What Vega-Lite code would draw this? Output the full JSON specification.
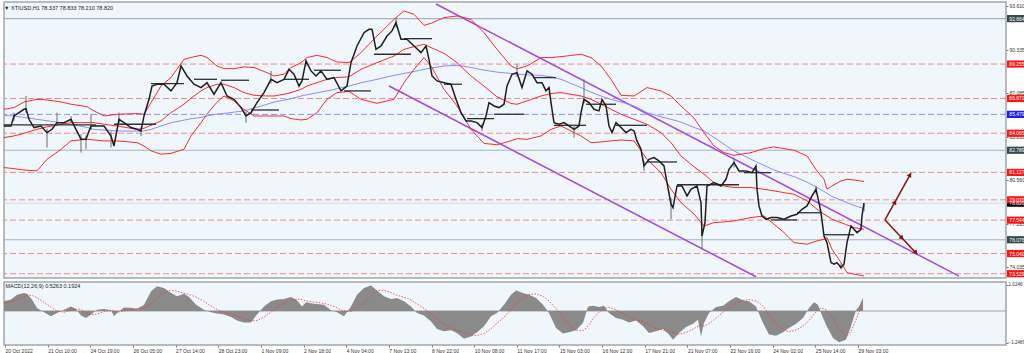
{
"$schema":"https://vega.github.io/schema/vega-lite/v6.json",
"padding":{"left":0,"top":1,"right":0,"bottom":0},
"background":"#ffffff",
"spacing":2,
"config":{"view":{"stroke":"#a0a6ac","strokeWidth":1.5,"fill":"#eff7fd"},"font":"Liberation Sans","title":{"fontSize":5.5,"fontWeight":"normal","color":"#222222","anchor":"start","font":"Liberation Sans"},"axis":{"labelFont":"Liberation Sans","labelFontSize":5,"labelColor":"#333333","tickColor":"#777777","tickSize":2,"domain":false,"grid":false,"title":null,"zindex":0}},
"datasets":{
"levels":[
{"p":78.82,"lbl":"78.820","k":"bid"},
{"p":92.664,"lbl":"92.664","k":"gray"},{"p":82.789,"lbl":"82.789","k":"gray"},{"p":76.076,"lbl":"76.076","k":"gray"},
{"p":89.255,"lbl":"89.255","k":"red"},{"p":86.671,"lbl":"86.671","k":"red"},{"p":84.065,"lbl":"84.065","k":"red"},{"p":81.127,"lbl":"81.127","k":"red"},{"p":79.07,"lbl":"79.070","k":"red"},{"p":77.544,"lbl":"77.544","k":"red"},{"p":75.04,"lbl":"75.040","k":"red"},{"p":73.529,"lbl":"73.529","k":"red"},
{"p":85.479,"lbl":"85.479","k":"blue"}],
"chan":[{"t":432,"p":93.76,"g":"a"},{"t":955,"p":73.35,"g":"a"},{"t":385,"p":87.61,"g":"b"},{"t":752,"p":73.3,"g":"b"}],
"arr":[{"t":881,"p":77.56,"g":"up"},{"t":907,"p":81.08,"g":"up"},{"t":881,"p":77.56,"g":"dn"},{"t":913,"p":75.01,"g":"dn"}],
"heads":[{"t":906,"p":80.95,"g":"up"},{"t":891,"p":78.91,"g":"up"},{"t":912,"p":75.1,"g":"dn"},{"t":898,"p":76.2,"g":"dn"}],
"segs":[{"t1":0,"t2":92,"p":84.69},{"t1":110,"t2":152,"p":84.74},{"t1":147,"t2":180,"p":87.79},{"t1":190,"t2":213,"p":88.11},{"t1":217,"t2":245,"p":88.04},{"t1":247,"t2":275,"p":85.81},{"t1":280,"t2":305,"p":88.11},{"t1":310,"t2":337,"p":88.79},{"t1":340,"t2":367,"p":87.24},{"t1":370,"t2":407,"p":89.99},{"t1":400,"t2":428,"p":91.16},{"t1":440,"t2":458,"p":87.74},{"t1":463,"t2":490,"p":85.16},{"t1":490,"t2":520,"p":85.49},{"t1":530,"t2":552,"p":88.24},{"t1":550,"t2":582,"p":84.66},{"t1":582,"t2":612,"p":86.24},{"t1":612,"t2":643,"p":84.66},{"t1":643,"t2":673,"p":81.91},{"t1":673,"t2":735,"p":80.2},{"t1":740,"t2":767,"p":81.11},{"t1":767,"t2":793,"p":77.56},{"t1":793,"t2":817,"p":78.1},{"t1":820,"t2":850,"p":76.45}],
"bands":[
{"t":0,"u":85.86,"m":83.74,"lo":81.49,"ma":85.41},{"t":10,"u":85.99,"m":83.86,"lo":81.41,"ma":85.35},{"t":20,"u":86.41,"m":84.06,"lo":81.31,"ma":85.25},{"t":33,"u":86.61,"m":84.36,"lo":81.24,"ma":85.11},{"t":43,"u":86.56,"m":84.54,"lo":82.11,"ma":85.0},{"t":57,"u":86.41,"m":84.74,"lo":82.86,"ma":84.85},{"t":67,"u":86.24,"m":84.86,"lo":83.49,"ma":84.74},{"t":83,"u":86.06,"m":84.86,"lo":83.61,"ma":84.5},{"t":90,"u":85.74,"m":84.86,"lo":83.56,"ma":84.36},{"t":100,"u":85.36,"m":84.74,"lo":83.49,"ma":84.3},{"t":113,"u":85.49,"m":84.61,"lo":83.49,"ma":84.24},{"t":133,"u":85.54,"m":84.36,"lo":83.36,"ma":84.22},{"t":140,"u":85.49,"m":84.44,"lo":83.11,"ma":84.24},{"t":147,"u":86.36,"m":84.66,"lo":82.74,"ma":84.35},{"t":157,"u":87.61,"m":84.99,"lo":82.49,"ma":84.61},{"t":167,"u":88.24,"m":85.61,"lo":82.56,"ma":84.85},{"t":180,"u":89.61,"m":86.24,"lo":82.86,"ma":85.05},{"t":187,"u":89.75,"m":86.7,"lo":83.86,"ma":85.15},{"t":197,"u":89.91,"m":87.24,"lo":84.86,"ma":85.25},{"t":203,"u":89.74,"m":87.49,"lo":85.5,"ma":85.36},{"t":213,"u":89.11,"m":87.74,"lo":86.4,"ma":85.5},{"t":220,"u":88.91,"m":87.74,"lo":86.86,"ma":85.55},{"t":230,"u":88.91,"m":87.49,"lo":86.49,"ma":85.65},{"t":240,"u":89.04,"m":87.11,"lo":85.86,"ma":85.74},{"t":250,"u":88.99,"m":86.91,"lo":85.36,"ma":85.95},{"t":263,"u":88.61,"m":86.86,"lo":85.36,"ma":86.24},{"t":270,"u":88.36,"m":86.86,"lo":85.36,"ma":86.4},{"t":280,"u":88.49,"m":86.99,"lo":85.36,"ma":86.55},{"t":287,"u":88.99,"m":87.11,"lo":85.16,"ma":86.65},{"t":297,"u":89.36,"m":87.36,"lo":85.06,"ma":86.86},{"t":303,"u":89.74,"m":87.61,"lo":85.11,"ma":86.95},{"t":313,"u":89.91,"m":87.86,"lo":85.61,"ma":87.1},{"t":323,"u":89.74,"m":88.11,"lo":86.61,"ma":87.24},{"t":333,"u":89.41,"m":88.24,"lo":87.11,"ma":87.4},{"t":345,"u":89.36,"m":88.3,"lo":87.2,"ma":87.6},{"t":357,"u":90.11,"m":88.86,"lo":86.61,"ma":87.85},{"t":373,"u":91.36,"m":89.36,"lo":86.31,"ma":88.11},{"t":390,"u":92.61,"m":89.86,"lo":86.61,"ma":88.4},{"t":400,"u":93.24,"m":90.36,"lo":87.86,"ma":88.55},{"t":410,"u":92.99,"m":90.56,"lo":88.86,"ma":88.7},{"t":420,"u":92.16,"m":90.74,"lo":89.74,"ma":88.86},{"t":427,"u":92.31,"m":90.49,"lo":89.11,"ma":88.95},{"t":440,"u":92.74,"m":90.06,"lo":87.36,"ma":89.11},{"t":453,"u":92.86,"m":89.36,"lo":86.11,"ma":89.16},{"t":467,"u":92.61,"m":88.36,"lo":84.36,"ma":89.0},{"t":480,"u":91.61,"m":87.6,"lo":83.3,"ma":88.8},{"t":493,"u":90.36,"m":86.8,"lo":83.2,"ma":88.65},{"t":507,"u":89.11,"m":86.3,"lo":83.5,"ma":88.55},{"t":513,"u":88.9,"m":86.24,"lo":83.66,"ma":88.5},{"t":523,"u":89.11,"m":86.49,"lo":83.61,"ma":88.45},{"t":537,"u":89.74,"m":86.86,"lo":83.86,"ma":88.41},{"t":547,"u":89.74,"m":87.04,"lo":84.36,"ma":88.3},{"t":557,"u":89.81,"m":87.11,"lo":84.61,"ma":88.11},{"t":577,"u":89.99,"m":86.86,"lo":83.86,"ma":87.49},{"t":587,"u":89.74,"m":86.61,"lo":83.36,"ma":87.15},{"t":597,"u":89.11,"m":86.24,"lo":83.41,"ma":86.86},{"t":607,"u":88.11,"m":85.86,"lo":83.49,"ma":86.6},{"t":617,"u":86.91,"m":85.49,"lo":83.56,"ma":86.41},{"t":630,"u":86.86,"m":85.11,"lo":83.49,"ma":86.11},{"t":643,"u":87.49,"m":84.74,"lo":82.11,"ma":85.61},{"t":657,"u":87.24,"m":84.11,"lo":81.11,"ma":85.3},{"t":667,"u":86.86,"m":83.36,"lo":79.86,"ma":85.11},{"t":677,"u":86.11,"m":82.36,"lo":78.86,"ma":84.9},{"t":690,"u":85.2,"m":81.55,"lo":78.0,"ma":84.5},{"t":700,"u":84.11,"m":80.99,"lo":77.11,"ma":84.24},{"t":710,"u":83.11,"m":80.36,"lo":77.36,"ma":83.75},{"t":720,"u":82.61,"m":80.11,"lo":77.41,"ma":83.24},{"t":730,"u":82.41,"m":79.99,"lo":77.49,"ma":82.74},{"t":747,"u":82.61,"m":79.99,"lo":77.74,"ma":82.11},{"t":760,"u":82.91,"m":79.86,"lo":77.86,"ma":81.65},{"t":770,"u":83.04,"m":79.74,"lo":77.24,"ma":81.31},{"t":780,"u":82.91,"m":79.61,"lo":76.61,"ma":81.05},{"t":790,"u":82.79,"m":79.49,"lo":75.86,"ma":80.81},{"t":803,"u":82.36,"m":78.99,"lo":75.74,"ma":80.4},{"t":813,"u":81.24,"m":78.36,"lo":75.99,"ma":79.99},{"t":820,"u":80.61,"m":77.99,"lo":76.11,"ma":79.7},{"t":823,"u":79.86,"m":77.86,"lo":76.24,"ma":79.55},{"t":828,"u":80.11,"m":77.61,"lo":75.36,"ma":79.31},{"t":837,"u":80.49,"m":77.36,"lo":74.36,"ma":79.05},{"t":843,"u":80.61,"m":77.19,"lo":73.61,"ma":78.86},{"t":850,"u":80.56,"m":76.99,"lo":73.49,"ma":78.65},{"t":860,"u":80.44,"m":76.86,"lo":73.36,"ma":78.41}],
"price":[
{"t":0,"c":84.61},{"t":7,"c":84.61},{"t":10,"c":85.36,"h":85.61,"l":85.0},{"t":20,"c":85.86},{"t":22,"c":85.9,"h":86.86,"l":85.6},{"t":25,"c":85.11},{"t":30,"c":84.49},{"t":37,"c":84.61},{"t":43,"c":84.11,"h":84.4,"l":82.99},{"t":48,"c":84.36},{"t":53,"c":84.86,"h":85.61,"l":84.6},{"t":60,"c":84.86},{"t":67,"c":85.11,"h":85.36,"l":84.9},{"t":72,"c":84.36},{"t":77,"c":83.61,"h":84.0,"l":82.61},{"t":82,"c":83.61,"h":83.9,"l":82.86},{"t":87,"c":84.61,"h":85.49,"l":84.3},{"t":93,"c":84.61},{"t":100,"c":84.61},{"t":107,"c":83.86,"h":84.2,"l":82.99},{"t":110,"c":83.11},{"t":115,"c":85.11,"h":85.61,"l":84.7},{"t":120,"c":84.86},{"t":127,"c":84.49},{"t":133,"c":84.36},{"t":137,"c":84.24,"h":84.5,"l":83.86},{"t":140,"c":85.36},{"t":145,"c":86.61},{"t":148,"c":87.61},{"t":153,"c":87.74},{"t":160,"c":87.74},{"t":167,"c":87.24},{"t":173,"c":87.86},{"t":177,"c":89.11},{"t":183,"c":88.36},{"t":190,"c":87.74},{"t":197,"c":87.49},{"t":203,"c":87.86},{"t":210,"c":86.99},{"t":217,"c":87.86},{"t":223,"c":86.86},{"t":230,"c":86.61},{"t":237,"c":85.99},{"t":242,"c":85.36,"h":85.7,"l":84.86},{"t":247,"c":85.61},{"t":253,"c":86.36},{"t":260,"c":87.11},{"t":267,"c":88.11,"h":88.74,"l":87.8},{"t":273,"c":87.86},{"t":280,"c":88.11},{"t":285,"c":88.86},{"t":290,"c":88.49},{"t":295,"c":87.61},{"t":298,"c":87.99},{"t":302,"c":89.49,"h":89.61,"l":89.1},{"t":307,"c":88.74},{"t":312,"c":88.36},{"t":317,"c":88.74},{"t":323,"c":88.11},{"t":330,"c":88.24},{"t":337,"c":87.24},{"t":343,"c":87.61},{"t":347,"c":89.36},{"t":353,"c":90.61},{"t":360,"c":91.61},{"t":365,"c":91.86},{"t":368,"c":91.86},{"t":372,"c":90.36},{"t":377,"c":90.61},{"t":383,"c":91.36},{"t":388,"c":91.74},{"t":392,"c":92.36,"h":92.74,"l":92.0},{"t":397,"c":91.11},{"t":403,"c":91.11},{"t":410,"c":90.61},{"t":417,"c":90.11},{"t":422,"c":90.61},{"t":425,"c":89.61},{"t":428,"c":88.36},{"t":433,"c":87.99},{"t":440,"c":87.86},{"t":447,"c":87.74},{"t":452,"c":86.61},{"t":457,"c":85.61},{"t":462,"c":84.99},{"t":467,"c":84.99},{"t":473,"c":84.86},{"t":478,"c":84.49,"h":84.8,"l":84.24},{"t":482,"c":85.36},{"t":485,"c":86.36},{"t":490,"c":86.11},{"t":495,"c":85.99},{"t":500,"c":86.24},{"t":503,"c":87.61},{"t":508,"c":88.49},{"t":513,"c":88.61,"h":89.24,"l":88.3},{"t":518,"c":87.49},{"t":523,"c":88.74},{"t":528,"c":88.49},{"t":533,"c":87.86},{"t":538,"c":87.86},{"t":542,"c":87.24},{"t":545,"c":87.49},{"t":547,"c":86.36},{"t":550,"c":84.86},{"t":555,"c":84.74},{"t":560,"c":84.86},{"t":565,"c":84.61},{"t":570,"c":84.36,"h":84.7,"l":83.74},{"t":575,"c":84.61},{"t":577,"c":85.61},{"t":580,"c":86.61,"h":88.11,"l":86.3},{"t":585,"c":86.36},{"t":590,"c":85.86},{"t":595,"c":85.74},{"t":598,"c":86.61},{"t":602,"c":86.11},{"t":605,"c":84.61},{"t":608,"c":84.11},{"t":612,"c":84.86},{"t":617,"c":84.49},{"t":622,"c":84.11},{"t":627,"c":84.36},{"t":630,"c":84.24},{"t":633,"c":83.49},{"t":637,"c":82.86},{"t":640,"c":81.61,"h":82.0,"l":81.24},{"t":645,"c":82.11},{"t":650,"c":82.24},{"t":655,"c":81.99},{"t":660,"c":81.61},{"t":663,"c":80.36},{"t":667,"c":78.74,"h":79.2,"l":77.61},{"t":669,"c":78.49},{"t":673,"c":80.11},{"t":678,"c":80.11},{"t":683,"c":79.36},{"t":687,"c":79.86},{"t":693,"c":80.11},{"t":697,"c":78.86},{"t":698,"c":76.36,"h":76.8,"l":75.36},{"t":701,"c":77.36},{"t":703,"c":80.11},{"t":710,"c":80.36},{"t":717,"c":80.11},{"t":722,"c":80.61},{"t":725,"c":81.36},{"t":730,"c":81.86,"h":82.24,"l":81.5},{"t":735,"c":81.24},{"t":742,"c":81.24},{"t":748,"c":81.11},{"t":752,"c":81.61},{"t":753,"c":79.86},{"t":755,"c":78.61},{"t":758,"c":77.86},{"t":762,"c":77.61},{"t":767,"c":77.74},{"t":773,"c":77.74},{"t":780,"c":77.61},{"t":787,"c":77.86},{"t":793,"c":77.99},{"t":798,"c":78.36},{"t":803,"c":78.61},{"t":808,"c":79.36},{"t":812,"c":79.86,"h":80.11,"l":79.5},{"t":815,"c":78.86},{"t":817,"c":78.11},{"t":820,"c":76.36},{"t":823,"c":75.86},{"t":827,"c":74.36},{"t":830,"c":74.24},{"t":833,"c":74.36},{"t":837,"c":73.99,"h":74.3,"l":73.86},{"t":840,"c":74.24},{"t":843,"c":75.86},{"t":847,"c":77.11},{"t":850,"c":76.86},{"t":853,"c":76.61},{"t":857,"c":76.86},{"t":858,"c":77.86},{"t":860,"c":78.82,"h":78.833,"l":78.21}],
"macd":[
{"t":0,"h":0.38,"s":0.3},{"t":7,"h":0.45,"s":0.36},{"t":13,"h":0.64,"s":0.45},{"t":20,"h":0.71,"s":0.57},{"t":23,"h":0.68,"s":0.62},{"t":28,"h":0.45,"s":0.62},{"t":33,"h":0.12,"s":0.52},{"t":40,"h":-0.05,"s":0.35},{"t":47,"h":-0.21,"s":0.15},{"t":53,"h":-0.08,"s":0.0},{"t":60,"h":0.05,"s":-0.05},{"t":67,"h":0.18,"s":0.02},{"t":72,"h":0.08,"s":0.08},{"t":77,"h":-0.18,"s":0.06},{"t":82,"h":-0.28,"s":-0.06},{"t":87,"h":-0.14,"s":-0.15},{"t":93,"h":0.05,"s":-0.12},{"t":100,"h":0.08,"s":-0.03},{"t":107,"h":0.03,"s":0.03},{"t":110,"h":-0.21,"s":0.0},{"t":115,"h":-0.01,"s":-0.04},{"t":120,"h":0.14,"s":0.0},{"t":127,"h":0.13,"s":0.06},{"t":133,"h":0.08,"s":0.1},{"t":140,"h":0.25,"s":0.12},{"t":147,"h":0.77,"s":0.28},{"t":153,"h":0.97,"s":0.5},{"t":160,"h":0.91,"s":0.72},{"t":167,"h":0.71,"s":0.82},{"t":173,"h":0.58,"s":0.78},{"t":180,"h":0.68,"s":0.7},{"t":185,"h":0.55,"s":0.65},{"t":192,"h":0.25,"s":0.55},{"t":200,"h":0.05,"s":0.38},{"t":207,"h":-0.05,"s":0.2},{"t":213,"h":-0.1,"s":0.06},{"t":220,"h":-0.14,"s":-0.04},{"t":227,"h":-0.24,"s":-0.12},{"t":233,"h":-0.37,"s":-0.2},{"t":240,"h":-0.45,"s":-0.3},{"t":247,"h":-0.45,"s":-0.38},{"t":253,"h":-0.14,"s":-0.38},{"t":260,"h":0.18,"s":-0.25},{"t":267,"h":0.38,"s":-0.05},{"t":273,"h":0.45,"s":0.15},{"t":280,"h":0.47,"s":0.3},{"t":287,"h":0.55,"s":0.42},{"t":293,"h":0.42,"s":0.47},{"t":298,"h":0.18,"s":0.44},{"t":302,"h":0.34,"s":0.4},{"t":310,"h":0.29,"s":0.35},{"t":320,"h":0.25,"s":0.3},{"t":327,"h":0.03,"s":0.22},{"t":333,"h":-0.05,"s":0.12},{"t":340,"h":-0.21,"s":0.0},{"t":347,"h":0.18,"s":-0.02},{"t":353,"h":0.64,"s":0.12},{"t":360,"h":0.91,"s":0.35},{"t":367,"h":1.0,"s":0.6},{"t":373,"h":0.81,"s":0.8},{"t":380,"h":0.58,"s":0.82},{"t":387,"h":0.47,"s":0.72},{"t":393,"h":0.51,"s":0.62},{"t":400,"h":0.38,"s":0.54},{"t":407,"h":0.18,"s":0.44},{"t":413,"h":-0.08,"s":0.28},{"t":420,"h":-0.18,"s":0.1},{"t":427,"h":-0.41,"s":-0.1},{"t":433,"h":-0.71,"s":-0.32},{"t":440,"h":-0.8,"s":-0.52},{"t":447,"h":-0.76,"s":-0.66},{"t":453,"h":-0.87,"s":-0.75},{"t":460,"h":-1.09,"s":-0.85},{"t":467,"h":-1.0,"s":-0.95},{"t":473,"h":-0.84,"s":-0.97},{"t":480,"h":-0.6,"s":-0.88},{"t":487,"h":-0.21,"s":-0.7},{"t":493,"h":-0.08,"s":-0.48},{"t":500,"h":0.25,"s":-0.25},{"t":507,"h":0.64,"s":0.05},{"t":512,"h":0.81,"s":0.3},{"t":519,"h":0.71,"s":0.52},{"t":525,"h":0.64,"s":0.65},{"t":532,"h":0.51,"s":0.67},{"t":539,"h":0.25,"s":0.58},{"t":545,"h":-0.08,"s":0.4},{"t":552,"h":-0.67,"s":0.1},{"t":559,"h":-0.89,"s":-0.25},{"t":565,"h":-0.84,"s":-0.55},{"t":572,"h":-0.76,"s":-0.75},{"t":579,"h":-0.47,"s":-0.78},{"t":584,"h":0.18,"s":-0.6},{"t":589,"h":0.21,"s":-0.3},{"t":595,"h":0.16,"s":-0.05},{"t":600,"h":0.21,"s":0.1},{"t":605,"h":-0.08,"s":0.15},{"t":612,"h":-0.28,"s":0.05},{"t":619,"h":-0.34,"s":-0.12},{"t":625,"h":-0.45,"s":-0.25},{"t":632,"h":-0.37,"s":-0.35},{"t":639,"h":-0.6,"s":-0.42},{"t":645,"h":-0.87,"s":-0.55},{"t":652,"h":-0.8,"s":-0.68},{"t":659,"h":-0.71,"s":-0.75},{"t":665,"h":-0.93,"s":-0.78},{"t":669,"h":-1.13,"s":-0.85},{"t":675,"h":-0.87,"s":-0.92},{"t":682,"h":-0.63,"s":-0.85},{"t":689,"h":-0.5,"s":-0.72},{"t":694,"h":-0.34,"s":-0.6},{"t":697,"h":-1.0,"s":-0.58},{"t":700,"h":-0.47,"s":-0.6},{"t":705,"h":-0.08,"s":-0.5},{"t":712,"h":0.16,"s":-0.28},{"t":719,"h":0.21,"s":-0.05},{"t":725,"h":0.38,"s":0.12},{"t":732,"h":0.55,"s":0.3},{"t":739,"h":0.42,"s":0.42},{"t":745,"h":0.38,"s":0.45},{"t":752,"h":0.18,"s":0.4},{"t":759,"h":-0.47,"s":0.2},{"t":765,"h":-0.93,"s":-0.15},{"t":772,"h":-0.97,"s":-0.5},{"t":779,"h":-0.84,"s":-0.75},{"t":785,"h":-0.67,"s":-0.82},{"t":792,"h":-0.5,"s":-0.75},{"t":799,"h":-0.28,"s":-0.6},{"t":805,"h":0.12,"s":-0.38},{"t":810,"h":0.34,"s":-0.12},{"t":814,"h":0.25,"s":0.05},{"t":817,"h":-0.08,"s":0.12},{"t":822,"h":-0.54,"s":0.05},{"t":829,"h":-1.06,"s":-0.3},{"t":835,"h":-1.23,"s":-0.7},{"t":842,"h":-1.13,"s":-1.0},{"t":847,"h":-0.6,"s":-0.8},{"t":852,"h":0.03,"s":-0.35},{"t":855,"h":0.18,"s":-0.05},{"t":859,"h":0.5263,"s":0.1924}]
},
"vconcat":[
{
"width":1002,"height":276,
"title":{"text":"▼ XTIUSD,H1  78.337 78.833 78.210 78.820","offset":-9,"dx":3},
"layer":[
{"data":{"name":"levels"},"transform":[{"filter":"datum.k=='red'"}],"mark":{"type":"rule","color":"#f28b8b","strokeDash":[6,3],"strokeWidth":1},
 "encoding":{"y":{"field":"p","type":"quantitative","scale":{"domain":[73.205,93.91],"nice":false,"zero":false},
 "axis":{"orient":"right","title":null,"values":[93.61,91.985,90.335,88.71,87.085,85.46,83.81,82.185,80.56,78.935,77.285,75.66,74.035],"labelExpr":"format(datum.value,'.3f')","labelPadding":1}}}},
{"data":{"name":"levels"},"transform":[{"filter":"datum.k=='blue'"}],"mark":{"type":"rule","color":"#8f8fff","strokeDash":[6,3],"strokeWidth":1},
 "encoding":{"y":{"field":"p","type":"quantitative"}}},
{"data":{"name":"levels"},"transform":[{"filter":"datum.k=='gray'"}],"mark":{"type":"rule","color":"#a8b2ba","strokeWidth":1.2},
 "encoding":{"y":{"field":"p","type":"quantitative"}}},
{"data":{"name":"levels"},"transform":[{"filter":"datum.k=='bid'"}],"mark":{"type":"rule","color":"#cfd6dc","strokeWidth":1},
 "encoding":{"y":{"field":"p","type":"quantitative"}}},
{"data":{"name":"chan"},"mark":{"type":"line","color":"#a545e8","strokeWidth":1.5,"clip":true},
 "encoding":{"x":{"field":"t","type":"quantitative","scale":{"domain":[0,1002],"nice":false,"zero":false},"axis":null},
 "y":{"field":"p","type":"quantitative"},"detail":{"field":"g"}}},
{"data":{"name":"bands"},"mark":{"type":"line","color":"#8c8cff","strokeWidth":1,"clip":true},
 "encoding":{"x":{"field":"t","type":"quantitative","axis":null},"y":{"field":"ma","type":"quantitative"}}},
{"data":{"name":"bands"},"mark":{"type":"line","color":"#ff2a2a","strokeWidth":1,"clip":true},
 "encoding":{"x":{"field":"t","type":"quantitative","axis":null},"y":{"field":"u","type":"quantitative"}}},
{"data":{"name":"bands"},"mark":{"type":"line","color":"#ff2a2a","strokeWidth":1,"clip":true},
 "encoding":{"x":{"field":"t","type":"quantitative","axis":null},"y":{"field":"m","type":"quantitative"}}},
{"data":{"name":"bands"},"mark":{"type":"line","color":"#ff2a2a","strokeWidth":1,"clip":true},
 "encoding":{"x":{"field":"t","type":"quantitative","axis":null},"y":{"field":"lo","type":"quantitative"}}},
{"data":{"name":"segs"},"mark":{"type":"rule","color":"#2e2e2e","strokeWidth":1.3},
 "encoding":{"x":{"field":"t1","type":"quantitative","axis":null},"x2":{"field":"t2"},"y":{"field":"p","type":"quantitative"}}},
{"data":{"name":"price"},"mark":{"type":"rule","color":"#6a6a6a","strokeWidth":1},
 "encoding":{"x":{"field":"t","type":"quantitative","axis":null},"y":{"field":"l","type":"quantitative"},"y2":{"field":"h"}}},
{"data":{"name":"price"},"mark":{"type":"line","color":"#1e1e1e","strokeWidth":1.5},
 "encoding":{"x":{"field":"t","type":"quantitative","axis":null},"y":{"field":"c","type":"quantitative"}}},
{"data":{"name":"arr"},"mark":{"type":"line","color":"#8b1212","strokeWidth":1.5},
 "encoding":{"x":{"field":"t","type":"quantitative","axis":null},"y":{"field":"p","type":"quantitative"},"detail":{"field":"g"}}},
{"data":{"name":"heads"},"transform":[{"filter":"datum.g=='up'"}],"mark":{"type":"point","shape":"triangle-up","filled":true,"color":"#8b1212","size":28,"angle":29,"opacity":1},
 "encoding":{"x":{"field":"t","type":"quantitative","axis":null},"y":{"field":"p","type":"quantitative"}}},
{"data":{"name":"heads"},"transform":[{"filter":"datum.g=='dn'"}],"mark":{"type":"point","shape":"triangle-up","filled":true,"color":"#8b1212","size":28,"angle":137,"opacity":1},
 "encoding":{"x":{"field":"t","type":"quantitative","axis":null},"y":{"field":"p","type":"quantitative"}}},
{"data":{"name":"levels"},"mark":{"type":"point","shape":"M-1,-0.36H1V0.36H-1Z","filled":true,"size":400,"opacity":1,"clip":false},
 "encoding":{"x":{"datum":1013,"type":"quantitative","axis":null},"y":{"field":"p","type":"quantitative"},
 "color":{"field":"k","type":"nominal","scale":{"domain":["bid","gray","red","blue"],"range":["#000000","#354a4c","#ff1414","#1c1cff"]},"legend":null}}},
{"data":{"name":"levels"},"mark":{"type":"text","color":"#ffffff","fontSize":5,"align":"center","baseline":"middle","clip":false},
 "encoding":{"x":{"datum":1013,"type":"quantitative","axis":null},"y":{"field":"p","type":"quantitative"},"text":{"field":"lbl"}}}
]
},
{
"width":1002,"height":63,
"title":{"text":"MACD(12,26,9) 0.5263 0.1924","offset":-8,"dx":3},
"layer":[
{"data":{"values":[{"z":0}]},"mark":{"type":"rule","color":"#a0a0a0","strokeWidth":1},
 "encoding":{"y":{"field":"z","type":"quantitative","scale":{"domain":[-1.339,1.142],"nice":false,"zero":false},
 "axis":{"orient":"right","title":null,"values":[1.0246,0,-1.2489],"labelExpr":"datum.value==0?'0.00':format(datum.value,'.4f')","labelPadding":0,"labelFontSize":4.6}}}},
{"data":{"name":"macd"},"mark":{"type":"area","color":"#8a8a8a","opacity":1},
 "encoding":{"x":{"field":"t","type":"quantitative","scale":{"domain":[0,1002],"nice":false,"zero":false},
 "axis":{"orient":"bottom","title":null,"values":[1,43.65,86.3,128.95,171.6,214.25,256.9,299.55,342.2,384.85,427.5,470.15,512.8,555.45,598.1,640.75,683.4,726.05,768.7,811.35,854],
 "labelExpr":"['20 Oct 2022','21 Oct 10:00','24 Oct 19:00','26 Oct 05:00','27 Oct 14:00','28 Oct 23:00','1 Nov 09:00','2 Nov 18:00','4 Nov 04:00','7 Nov 13:00','8 Nov 22:00','10 Nov 08:00','11 Nov 17:00','15 Nov 03:00','16 Nov 12:00','17 Nov 21:00','21 Nov 07:00','22 Nov 16:00','24 Nov 02:00','25 Nov 14:00','29 Nov 03:00'][round((datum.value-1)/42.65)]",
 "labelAlign":"left","labelPadding":1,"labelFlush":false,"labelOverlap":false}},
 "y":{"field":"h","type":"quantitative"},"y2":{"datum":0}}},
{"data":{"name":"macd"},"mark":{"type":"line","color":"#ff3030","strokeWidth":0.8,"strokeDash":[1.5,1.5]},
 "encoding":{"x":{"field":"t","type":"quantitative"},"y":{"field":"s","type":"quantitative"}}}
]
}
]
}
